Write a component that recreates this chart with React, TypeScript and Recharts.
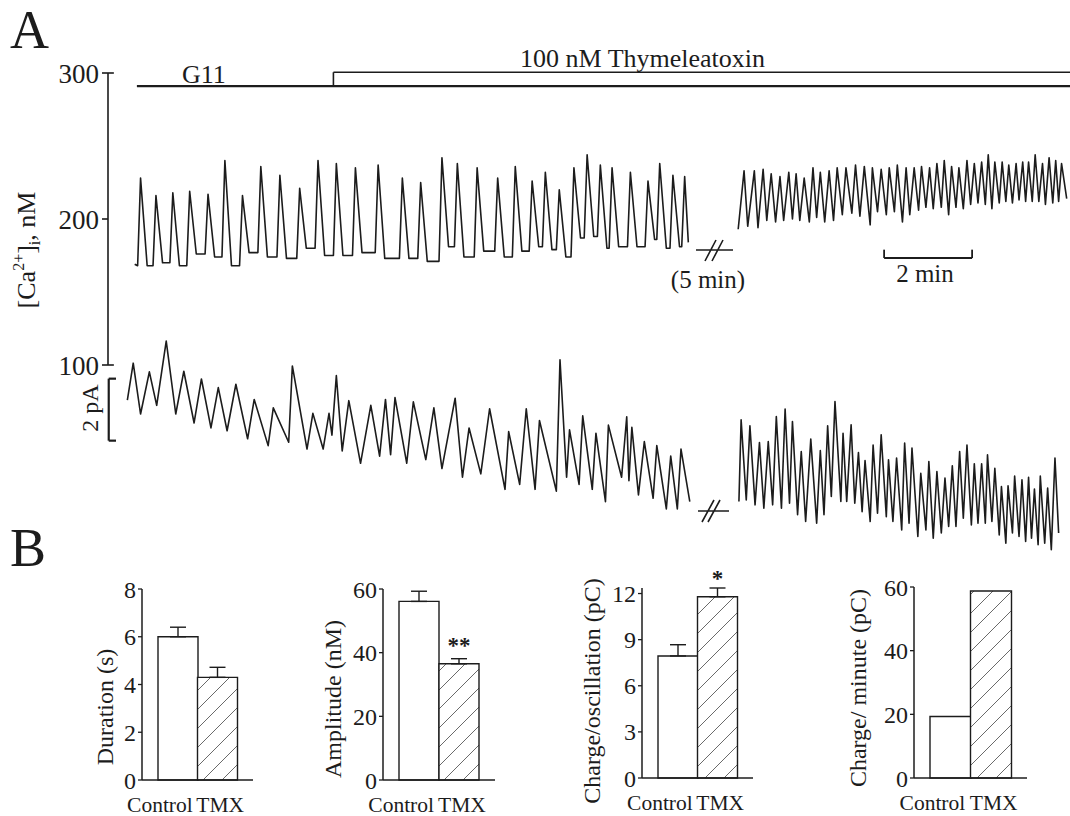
import React from 'react'
import {
  LineChart,
  Line,
  XAxis,
  YAxis,
  ReferenceLine,
  BarChart,
  Bar,
  Cell,
  ErrorBar,
  LabelList
} from 'recharts'

const SERIF = '"Liberation Serif", "Times New Roman", serif'
const INK = '#1c1c1c'

// panel A time axis in seconds (the scale bar is 120 s)
const T_MIN = -16.4
const T_MAX = 1295.5

// [Ca2+]i in G11, before the break: spike times (s), peaks and the baseline before each spike (nM)
const caPreStart = { t: 20, v: 169 }
const caPrePeakT = [28, 49, 72, 95, 120, 143, 167, 192, 218, 245, 270, 295, 321, 352, 385, 410, 439, 460, 487, 515, 539, 562, 580, 599, 619, 637, 655, 671, 696, 720, 736, 754, 770]
const caPrePeak = [228, 216, 218, 219, 217, 240, 216, 236, 230, 221, 240, 238, 235, 237, 228, 225, 242, 238, 235, 228, 236, 226, 232, 220, 235, 244, 237, 235, 232, 226, 238, 230, 229]
const caPreBase = [168, 168, 170, 168, 176, 174, 168, 177, 174, 173, 180, 175, 175, 177, 173, 173, 171, 181, 174, 178, 174, 178, 181, 179, 174, 187, 188, 180, 181, 181, 186, 180, 181]
const caPreEnd = { t: 775, v: 184 }
const RISE = 4
const DECAY = 9

// [Ca2+]i with thymeleatoxin, after the break: troughs and peaks (s, nM)
const caPostTroughT = [843, 856, 870, 882, 894, 905, 917, 927, 940, 950, 961, 973, 985, 998, 1009, 1023, 1033, 1045, 1056, 1067, 1077, 1089, 1099, 1109, 1120, 1130, 1140, 1150, 1160, 1170, 1180, 1189, 1199, 1208, 1217, 1226, 1235, 1244, 1253, 1262, 1272, 1280]
const caPostTrough = [193, 195, 194, 199, 198, 199, 200, 199, 198, 201, 198, 199, 203, 204, 202, 196, 205, 203, 205, 198, 203, 206, 208, 207, 208, 203, 208, 207, 210, 211, 210, 207, 211, 212, 211, 213, 212, 212, 212, 210, 211, 212]
const caPostPeakT = [851, 865, 877, 888, 900, 912, 922, 933, 945, 955, 967, 978, 990, 1003, 1015, 1026, 1038, 1049, 1060, 1072, 1083, 1093, 1104, 1114, 1124, 1134, 1144, 1155, 1165, 1175, 1184, 1193, 1203, 1212, 1222, 1231, 1239, 1248, 1258, 1267, 1276, 1284]
const caPostPeak = [233, 233, 234, 231, 229, 232, 231, 228, 235, 232, 233, 235, 235, 237, 236, 235, 234, 235, 237, 235, 235, 236, 235, 238, 240, 236, 235, 240, 238, 239, 244, 239, 239, 237, 238, 239, 239, 244, 238, 242, 240, 238]
const caPostEnd = { t: 1291, v: 214 }

// membrane current (pA, relative), trace vertices
const curPreT = [10, 18, 28, 40, 50, 63, 76, 87, 101, 111, 124, 134, 146, 158, 174, 183, 202, 209, 230, 235, 255, 263, 277, 285, 289, 295, 303, 312, 328, 342, 354, 362, 369, 375, 391, 400, 417, 428, 439, 457, 467, 476, 492, 504, 525, 530, 545, 554, 566, 572, 595, 600, 609, 613, 626, 631, 644, 649, 662, 666, 684, 691, 694, 698, 707, 715, 727, 732, 745, 751, 760, 765, 777]
const curPre = [4.51, 5.70, 4.06, 5.42, 4.34, 6.41, 4.06, 5.44, 3.77, 5.19, 3.61, 4.91, 3.52, 5.02, 3.26, 4.53, 3.04, 4.26, 3.15, 5.61, 2.93, 4.08, 2.93, 4.08, 3.38, 5.30, 2.87, 4.49, 2.47, 4.34, 2.70, 4.53, 2.75, 4.59, 2.47, 4.45, 2.59, 4.26, 2.30, 4.57, 2.02, 3.61, 2.13, 4.23, 1.63, 3.49, 1.79, 4.23, 1.63, 3.85, 1.57, 5.81, 2.02, 3.55, 1.79, 4.00, 1.63, 3.44, 1.23, 3.70, 2.02, 3.97, 1.91, 3.63, 1.45, 3.17, 1.34, 3.04, 1.00, 2.70, 1.00, 2.93, 1.23]
const curPostT = [844, 847, 854, 859, 866, 872, 878, 884, 890, 895, 902, 907, 913, 917, 924, 929, 935, 942, 950, 955, 960, 965, 970, 975, 983, 986, 991, 997, 1002, 1007, 1012, 1016, 1023, 1027, 1033, 1038, 1045, 1048, 1054, 1059, 1066, 1070, 1076, 1080, 1088, 1092, 1099, 1103, 1109, 1114, 1120, 1125, 1130, 1135, 1140, 1145, 1150, 1155, 1161, 1165, 1170, 1175, 1180, 1183, 1189, 1193, 1199, 1202, 1208, 1211, 1217, 1220, 1226, 1230, 1235, 1239, 1243, 1247, 1252, 1255, 1261, 1265, 1270, 1275, 1280]
const curPost = [1.24, 3.87, 1.29, 3.68, 1.13, 3.14, 1.02, 3.17, 1.13, 3.98, 1.02, 4.22, 1.18, 3.82, 0.81, 2.85, 0.59, 3.25, 0.54, 2.88, 0.81, 3.68, 1.40, 4.46, 1.24, 3.44, 1.24, 3.71, 1.18, 2.82, 0.91, 2.56, 0.59, 3.06, 0.86, 3.39, 0.75, 2.58, 0.59, 2.64, 0.32, 3.12, 0.54, 2.96, 0.11, 2.15, 0.32, 2.53, 0.05, 2.20, 0.22, 1.99, 0.43, 2.39, 0.43, 2.85, 0.70, 3.06, 0.48, 2.45, 0.54, 2.45, 0.54, 2.74, 0.59, 2.31, 0.16, 1.72, -0.11, 1.74, 0.22, 2.06, 0.11, 1.94, -0.05, 2.02, 0.05, 1.64, -0.16, 2.06, -0.11, 1.67, -0.32, 2.64, 0.22]

// annotations of panel A (time in s, values in axis units)
const G11_FROM = 23
const TMX_FROM = 291
const G11_LEVEL = 291
const TMX_LEVEL = 300.5
const MIN_BAR = { from: 1042, to: 1162, level: 173.3, tip: 179 }
const PA_BAR = { at: -15.4, tip: -5.5, lo: 3.2, hi: 5.2 }
const HOOK = 8

// panel B
const groups = ['Control', 'TMX']
const durationS = [6.0, 4.3]
const durationSem = [0.4, 0.42]
const amplitudeNM = [56.1, 36.5]
const amplitudeSem = [3.2, 1.6]
const amplitudeSig = ['', '**']
const chargeOscPC = [7.94, 11.79]
const chargeOscSem = [0.73, 0.57]
const chargeOscSig = ['', '*']
const chargeMinPC = [19.3, 58.75]

const buildPre = () => {
  const pts: { t: number; v: number }[] = [caPreStart]
  caPrePeakT.forEach((t, i) => {
    pts.push({ t: t - RISE, v: caPreBase[i] })
    pts.push({ t, v: caPrePeak[i] })
    if (i + 1 < caPrePeakT.length) pts.push({ t: t + DECAY, v: caPreBase[i + 1] })
  })
  pts.push(caPreEnd)
  return pts
}

const buildPost = () => {
  const pts: { t: number; v: number }[] = []
  caPostTroughT.forEach((t, i) => {
    pts.push({ t, v: caPostTrough[i] })
    pts.push({ t: caPostPeakT[i], v: caPostPeak[i] })
  })
  pts.push(caPostEnd)
  return pts
}

const zipTrace = (ts: number[], vs: number[]) => ts.map((t, i) => ({ t, v: vs[i] }))

const caPre = buildPre()
const caPost = buildPost()
const cur1 = zipTrace(curPreT, curPre)
const cur2 = zipTrace(curPostT, curPost)

const traceProps = {
  type: 'linear' as const,
  dataKey: 'v',
  dot: false,
  stroke: INK,
  strokeWidth: 1.6,
  strokeLinejoin: 'round' as const,
  isAnimationActive: false
}

const seg = (x1: number, y1: number, x2: number, y2: number, w = 1.6) => (
  <ReferenceLine
    segment={[{ x: x1, y: y1 }, { x: x2, y: y2 }]}
    stroke={INK}
    strokeWidth={w}
    ifOverflow="visible"
  />
)

const CalciumChart = () => (
  <LineChart width={1070} height={400} margin={{ top: 73, right: 0, bottom: 35, left: 0 }}>
    <XAxis type="number" dataKey="t" domain={[T_MIN, T_MAX]} hide allowDataOverflow />
    <YAxis
      type="number"
      domain={[100, 300]}
      ticks={[100, 200, 300]}
      width={108}
      tickSize={6}
      tickMargin={3}
      axisLine={{ stroke: INK, strokeWidth: 1.6 }}
      tickLine={{ stroke: INK, strokeWidth: 1.6 }}
      tick={{ fontSize: 27, fontFamily: SERIF, fill: INK }}
    />
    {seg(T_MIN, 300, T_MIN + HOOK, 300)}
    {seg(T_MIN, 100, T_MIN + HOOK, 100)}
    {seg(G11_FROM, G11_LEVEL, T_MAX, G11_LEVEL, 2.2)}
    {seg(TMX_FROM, G11_LEVEL, TMX_FROM, TMX_LEVEL, 1.6)}
    {seg(TMX_FROM, TMX_LEVEL, T_MAX, TMX_LEVEL, 1.6)}
    {seg(MIN_BAR.from, MIN_BAR.level, MIN_BAR.to, MIN_BAR.level, 1.8)}
    {seg(MIN_BAR.from, MIN_BAR.level, MIN_BAR.from, MIN_BAR.tip, 1.8)}
    {seg(MIN_BAR.to, MIN_BAR.level, MIN_BAR.to, MIN_BAR.tip, 1.8)}
    <Line data={caPre} {...traceProps} />
    <Line data={caPost} {...traceProps} />
  </LineChart>
)

const CurrentChart = () => (
  <LineChart width={1070} height={600} margin={{ top: 330, right: 0, bottom: 40, left: 108 }}>
    <XAxis type="number" dataKey="t" domain={[T_MIN, T_MAX]} hide allowDataOverflow />
    <YAxis type="number" domain={[-0.65, 6.77]} hide allowDataOverflow />
    {seg(PA_BAR.at, PA_BAR.lo, PA_BAR.at, PA_BAR.hi, 2.2)}
    {seg(PA_BAR.at, PA_BAR.lo, PA_BAR.tip, PA_BAR.lo, 2.2)}
    {seg(PA_BAR.at, PA_BAR.hi, PA_BAR.tip, PA_BAR.hi, 2.2)}
    <Line data={cur1} {...traceProps} />
    <Line data={cur2} {...traceProps} />
  </LineChart>
)

const GroupTick = (props: any) => {
  const { x, y, payload } = props
  const first = payload.value === groups[0]
  return (
    <text
      x={first ? x + 15 : x - 21}
      y={y + 24}
      textAnchor={first ? 'end' : 'start'}
      fontSize={21.5}
      fontFamily={SERIF}
      fill={INK}
    >
      {payload.value}
    </text>
  )
}

const SigLabel = (props: any) => {
  const { x, y, width, value } = props
  if (!value) return null
  return (
    <text x={x + width / 2} y={y - 11} textAnchor="middle" fontSize={23} fontWeight="bold" fontFamily={SERIF} fill={INK}>
      {value}
    </text>
  )
}

type SmallPanel = {
  id: string
  axisX: number
  xEnd: number
  topY: number
  zeroY: number
  max: number
  ticks: number[]
  means: number[]
  sems?: number[]
  sig?: string[]
}

const TOP = 540
const H = 276

const smallPanels: SmallPanel[] = [
  { id: 'dur', axisX: 142, xEnd: 253, topY: 589, zeroY: 780, max: 8, ticks: [0, 2, 4, 6, 8], means: durationS, sems: durationSem },
  { id: 'amp', axisX: 383, xEnd: 495, topY: 589, zeroY: 780, max: 60, ticks: [0, 20, 40, 60], means: amplitudeNM, sems: amplitudeSem, sig: amplitudeSig },
  { id: 'qos', axisX: 642, xEnd: 753, topY: 588, zeroY: 778, max: 12, ticks: [0, 3, 6, 9, 12], means: chargeOscPC, sems: chargeOscSem, sig: chargeOscSig },
  { id: 'qmin', axisX: 914, xEnd: 1027, topY: 587, zeroY: 778, max: 60, ticks: [0, 20, 40, 60], means: chargeMinPC }
]

const SmallBars = ({ p }: { p: SmallPanel }) => {
  const data = groups.map((g, i) => ({
    name: g,
    mean: p.means[i],
    err: p.sems ? [0, p.sems[i]] : [0, 0],
    sig: p.sig ? p.sig[i] : ''
  }))
  const yw = 60
  return (
    <div style={{ position: 'absolute', left: p.axisX - yw, top: TOP }}>
      <BarChart
        width={yw + p.xEnd - p.axisX}
        height={H}
        data={data}
        barCategoryGap={0}
        margin={{ top: p.topY - TOP, right: 0, left: 0, bottom: H - (p.zeroY - TOP) - 30 }}
      >
        <defs>
          <pattern id={`hatch-${p.id}`} patternUnits="userSpaceOnUse" width={19} height={19}>
            <rect width={19} height={19} fill="#fff" />
            <path d="M0,19 L19,0 M-2,2 L2,-2 M17,21 L21,17" stroke="#6a6a6a" strokeWidth={1} />
          </pattern>
        </defs>
        <XAxis
          dataKey="name"
          height={30}
          padding={{ left: 16, right: 16 }}
          tickLine={false}
          axisLine={{ stroke: INK, strokeWidth: 1.5 }}
          tick={<GroupTick />}
          interval={0}
        />
        <YAxis
          type="number"
          width={yw}
          domain={[0, p.max]}
          ticks={p.ticks}
          tickSize={4}
          tickMargin={2}
          axisLine={{ stroke: INK, strokeWidth: 1.5 }}
          tickLine={{ stroke: INK, strokeWidth: 1.3 }}
          tick={{ fontSize: 24, fontFamily: SERIF, fill: INK }}
        />
        <Bar dataKey="mean" stroke={INK} strokeWidth={1.4} isAnimationActive={false}>
          {data.map((d, i) => (
            <Cell key={d.name} fill={i === 0 ? '#ffffff' : `url(#hatch-${p.id})`} />
          ))}
          {p.sems && <ErrorBar dataKey="err" width={8} stroke={INK} strokeWidth={1.4} direction="y" />}
          {p.sig && <LabelList dataKey="sig" content={<SigLabel />} />}
        </Bar>
      </BarChart>
    </div>
  )
}

const axisTitles = [
  { x: 105, y: 707, text: 'Duration (s)' },
  { x: 333, y: 699, text: 'Amplitude (nM)' },
  { x: 592, y: 691, text: 'Charge/oscillation (pC)' },
  { x: 858, y: 688, text: 'Charge/ minute (pC)' }
]

const Overlay = () => (
  <svg width={1070} height={816} style={{ position: 'absolute', left: 0, top: 0, pointerEvents: 'none' }}>
    <g fontFamily={SERIF} fill={INK}>
      <text x={10} y={48} fontSize={54}>A</text>
      <text x={10} y={566} fontSize={54}>B</text>
      <text transform="translate(35,250) rotate(-90)" textAnchor="middle" fontSize={26}>
        [Ca<tspan dy={-11} fontSize={16}>2+</tspan>
        <tspan dy={11}>]</tspan>
        <tspan dy={5} fontSize={16}>i</tspan>
        <tspan dy={-5}>, nM</tspan>
      </text>
      <text transform="translate(98,408) rotate(-90)" textAnchor="middle" fontSize={24}>2 pA</text>
      <text x={182} y={83} fontSize={26}>G11</text>
      <text x={520} y={67} fontSize={26}>100 nM Thymeleatoxin</text>
      <text x={708} y={288} textAnchor="middle" fontSize={25}>(5 min)</text>
      <text x={925} y={282} textAnchor="middle" fontSize={25}>2 min</text>
      {axisTitles.map(a => (
        <text
          key={a.text}
          transform={`translate(${a.x},${a.y}) rotate(-90)`}
          textAnchor="middle"
          dominantBaseline="central"
          fontSize={24}
        >
          {a.text}
        </text>
      ))}
    </g>
    <g stroke={INK} strokeWidth={1.6} fill="none">
      <path d="M696,250 L733,250 M705,261 L716,240 M712,261 L723,240" />
      <path d="M698,511 L729,511 M702,522 L714,500 M708,522 L720,500" />
    </g>
  </svg>
)

export default function App() {
  return (
    <div style={{ position: 'relative', width: 1070, height: 816, background: '#ffffff', overflow: 'hidden' }}>
      <style>{'body{margin:0}'}</style>
      <div style={{ position: 'absolute', left: 0, top: 0 }}>
        <CalciumChart />
      </div>
      <div style={{ position: 'absolute', left: 0, top: 0 }}>
        <CurrentChart />
      </div>
      {smallPanels.map(p => (
        <SmallBars key={p.id} p={p} />
      ))}
      <Overlay />
    </div>
  )
}
